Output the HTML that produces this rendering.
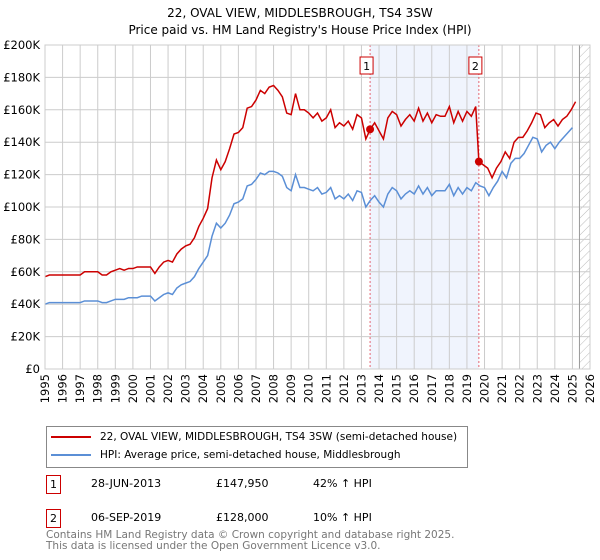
<!DOCTYPE html>
<html><head><meta charset="utf-8"><style>
body{margin:0;background:#fff;font-family:"DejaVu Sans","Liberation Sans",sans-serif;}
#wrap{position:relative;width:600px;height:560px;overflow:hidden}
.t{position:absolute;font-size:11px;color:#000;white-space:nowrap}
</style></head><body><div id="wrap">
<svg id="chart" width="600" height="420" style="position:absolute;left:0;top:0" font-family="DejaVu Sans, Liberation Sans, sans-serif"></svg>
<div style="position:absolute;left:46px;top:426px;width:422px;height:42px;border:1px solid #888;box-sizing:border-box">
 <div style="position:absolute;left:4px;top:4px;font-size:10.5px;white-space:nowrap"><span style="display:inline-block;width:40px;height:2px;background:#cc0000;vertical-align:middle;margin-right:9px"></span>22, OVAL VIEW, MIDDLESBROUGH, TS4 3SW (semi-detached house)</div>
 <div style="position:absolute;left:4px;top:22px;font-size:10.5px;white-space:nowrap"><span style="display:inline-block;width:40px;height:2px;background:#5b8fd6;vertical-align:middle;margin-right:9px"></span>HPI: Average price, semi-detached house, Middlesbrough</div>
</div>
<div>
<div class="t" style="left:46px;top:475px;border:1px solid #c00;padding:2px 3px">1</div>
<div class="t" style="left:91px;top:477px">28-JUN-2013</div>
<div class="t" style="left:216px;top:477px">£147,950</div>
<div class="t" style="left:313px;top:477px">42% ↑ HPI</div></div>
<div>
<div class="t" style="left:46px;top:509px;border:1px solid #c00;padding:2px 3px">2</div>
<div class="t" style="left:91px;top:511px">06-SEP-2019</div>
<div class="t" style="left:216px;top:511px">£128,000</div>
<div class="t" style="left:313px;top:511px">10% ↑ HPI</div></div>
<div style="position:absolute;left:46px;top:530px;font-size:10.5px;color:#777;line-height:11px">Contains HM Land Registry data © Crown copyright and database right 2025.<br>This data is licensed under the Open Government Licence v3.0.</div>
</div>
<script>
const hpi=[40,41,41,41,41,41,41,41,41,42,42,42,42,41,41,42,43,43,43,44,44,44,45,45,45,42,44,46,47,46,50,52,53,54,57,62,66,70,82,90,87,90,95,102,103,105,113,114,117,121,120,122,122,121,119,112,110,120,112,112,111,110,112,108,109,112,105,107,105,108,104,110,109,100,104,107,103,100,108,112,110,105,108,110,108,113,108,112,107,110,110,110,114,107,112,108,112,110,115,113,112,107,112,116,122,118,127,130,130,133,138,143,142,134,138,140,136,140,143,146,149];
const redA=[57,58,58,58,58,58,58,58,58,60,60,60,60,58,58,60,61,62,61,62,62,63,63,63,63,59,63,66,67,66,71,74,76,77,81,88,93,99,118,129,123,128,136,145,146,149,161,162,166,172,170,174,175,172,168,158,157,170,160,160,158,155,158,153,155,160,149,152,150,153,148,157,155,142,148,152,147,142,155,159,157,150,154,157,153,161,153,158,152,157,156,156,162,152,159,153,159,156,162];
const redB=[128,126,124,118,124,128,134,130,140,143,143,147,152,158,157,149,152,154,150,154,156,160,165];
const redBStart=2019.68;
const sales=[{n:"1",year:2013.49,price:147.95},{n:"2",year:2019.68,price:128}];
const yTicks=[0,20,40,60,80,100,120,140,160,180,200];
const years=[];for(let y=1995;y<=2026;y++)years.push(y);
const svg=document.getElementById('chart');const NS='http://www.w3.org/2000/svg';
const L=45,R=590,T=45,B=369;
const X=y=>L+(y-1995)*(R-L)/31;const Y=v=>B-v*(B-T)/200;
function el(tag,a,p){const e=document.createElementNS(NS,tag);for(const k in a)e.setAttribute(k,a[k]);(p||svg).appendChild(e);return e;}
const title=el('text',{x:300,y:17,'text-anchor':'middle','font-size':12});title.textContent='22, OVAL VIEW, MIDDLESBROUGH, TS4 3SW';


const sub=el('text',{x:300,y:34,'text-anchor':'middle','font-size':12});sub.textContent="Price paid vs. HM Land Registry's House Price Index (HPI)";


const shade=el('rect',{x:X(sales[0].year),y:T,width:X(sales[1].year)-X(sales[0].year),height:B-T,fill:'#f0f4fd'});


const defs=el('defs',{});const pat=el('pattern',{id:'h',width:6,height:6,patternUnits:'userSpaceOnUse',patternTransform:'rotate(45)'},defs);el('line',{x1:0,y1:0,x2:0,y2:6,stroke:'#bbb','stroke-width':1},pat);
const hatch=el('rect',{x:X(2025.4),y:T,width:R-X(2025.4),height:B-T,fill:'url(#h)'});


years.forEach(y=>{const g=el('line',{x1:X(y),x2:X(y),y1:T,y2:B,stroke:'#ccc'});


const t=el('text',{x:0,y:0,'font-size':11.5,'text-anchor':'end',transform:`translate(${X(y)+4},${B+5}) rotate(-90)`});t.textContent=y;

});
yTicks.forEach(v=>{const g=el('line',{x1:L,x2:R,y1:Y(v),y2:Y(v),stroke:'#ccc'});


const t=el('text',{x:L-5,y:Y(v)+4,'font-size':11.5,'text-anchor':'end'});t.textContent=v===0?'£0':'£'+v+'K';

});
const vl=el('line',{x1:X(2025.4),x2:X(2025.4),y1:T,y2:B,stroke:'#999'});


sales.forEach(s=>{const l=el('line',{x1:X(s.year),x2:X(s.year),y1:T,y2:B,stroke:'#e04050','stroke-dasharray':'2,2','stroke-width':0.8});


const r=el('rect',{x:X(s.year)-10,y:57,width:13,height:17,fill:'#fff',stroke:'#c00'});


const t=el('text',{x:X(s.year)-3.5,y:70,'font-size':11,'text-anchor':'middle'});t.textContent=s.n;

});
const hp=el('polyline',{points:hpi.map((v,i)=>X(1995+i/4)+','+Y(v)).join(' '),fill:'none',stroke:'#5b8fd6','stroke-width':1.5});


const pts=redA.map((v,i)=>X(1995+i/4)+','+Y(v)).concat(redB.map((v,i)=>X(redBStart+i/4)+','+Y(v)));
const rp=el('polyline',{points:pts.join(' '),fill:'none',stroke:'#cc0000','stroke-width':1.5});


sales.forEach(s=>{const d=el('circle',{cx:X(s.year),cy:Y(s.price),r:4,fill:'#cc0000'});

});
const ax=el('rect',{x:L,y:T,width:R-L,height:B-T,fill:'none',stroke:'#ccc'});


</script></body></html>
